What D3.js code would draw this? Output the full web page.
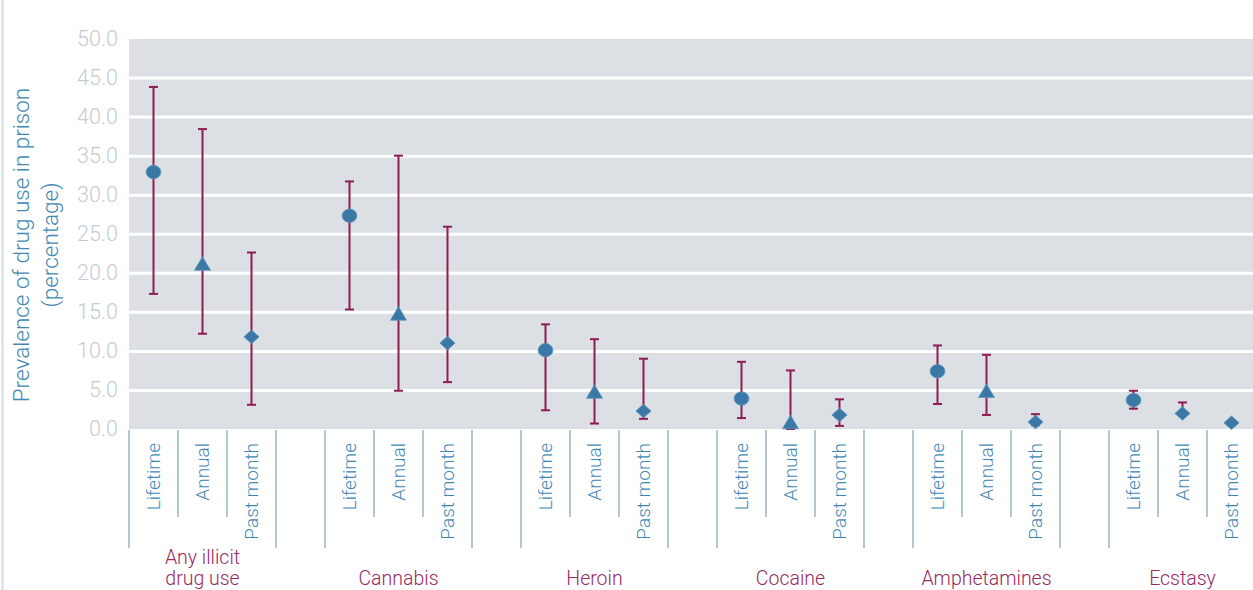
<!DOCTYPE html>
<html>
<head>
<meta charset="utf-8">
<script src="https://cdn.jsdelivr.net/npm/d3@7"></script>
<style>
  body { margin: 0; background: #fff; }
  svg { display: block; }
</style>
</head>
<body>
<div id="chart"></div>
<script>
// drug groups along the x axis
var groups = ["Any illicit drug use", "Cannabis", "Heroin", "Cocaine", "Amphetamines", "Ecstasy"]
var groupLabels = [["Any illicit", "drug use"], ["Cannabis"], ["Heroin"], ["Cocaine"], ["Amphetamines"], ["Ecstasy"]]
var measures = ["Lifetime", "Annual", "Past month"]
var yTicks = [0, 5, 10, 15, 20, 25, 30, 35, 40, 45, 50]

// prevalence (%) with lower / upper range, one value per group
var lifetime      = [32.9, 27.3, 10.1, 3.9, 7.4, 3.7]
var lifetimeLow   = [17.3, 15.3,  2.4, 1.4, 3.2, 2.6]
var lifetimeHigh  = [43.8, 31.7, 13.4, 8.6, 10.7, 4.9]
var annual        = [21.2, 14.8,  4.8, 0.9, 4.9, 2.0]
var annualLow     = [12.2,  4.9,  0.7, 0.0, 1.8, 1.7]
var annualHigh    = [38.4, 35.0, 11.5, 7.5, 9.5, 3.4]
var pastMonth     = [11.8, 11.0,  2.3, 1.8, 0.9, 0.8]
var pastMonthLow  = [ 3.1,  6.0,  1.3, 0.4, 0.5, 0.5]
var pastMonthHigh = [22.6, 25.9,  9.0, 3.8, 1.9, 0.9]
// marker used for each group's three points (ecstasy annual is drawn as a diamond in the original)
var markerShapes = [
	["circle", "triangle", "diamond"],
	["circle", "triangle", "diamond"],
	["circle", "triangle", "diamond"],
	["circle", "triangle", "diamond"],
	["circle", "triangle", "diamond"],
	["circle", "diamond",  "diamond"]
]

var W = 1253, H = 590
var plotLeft = 129, plotTop = 39, plotBottom = 429, plotRight = W
var slot = 49

var cGrid   = "#dce0e4",
	cBar    = "#8e1c54",
	cMarker = "#3b78a5",
	cEdge   = "#5a95c2",
	cTitle  = "#3f88b4",
	cTick   = "#c3ccd4",
	cSep    = "#b6c5d2",
	cGroup  = "#962a5f"

var fontFam = "Roboto, 'Liberation Sans', sans-serif"

var points = []
groups.forEach(function(g, i) {
	var vals = [[lifetime[i], lifetimeLow[i], lifetimeHigh[i]],
				[annual[i], annualLow[i], annualHigh[i]],
				[pastMonth[i], pastMonthLow[i], pastMonthHigh[i]]]
	measures.forEach(function(m, j) {
		points.push({group: g, measure: m, value: vals[j][0], low: vals[j][1], high: vals[j][2], shape: markerShapes[i][j]})
	})
})

var svg = d3.select("#chart").append("svg")
	.attr("width", W)
	.attr("height", H)
	.style("font-family", fontFam)

var y = d3.scaleLinear().domain([0, 50]).range([plotBottom, 38.5])
var x0 = d3.scaleBand().domain(groups).range([plotLeft, plotLeft + groups.length * slot * 4])
var x1 = d3.scaleBand().domain(measures).range([0, slot * 3])
function px(d) { return x0(d.group) + x1(d.measure) + x1.bandwidth() / 2 }

// faint frame line at the left edge
svg.append("line")
	.attr("x1", 2.5).attr("x2", 2.5)
	.attr("y1", 0).attr("y2", H)
	.attr("stroke", "#d3dbe3")
	.attr("stroke-width", 2)

svg.append("rect")
	.attr("x", plotLeft)
	.attr("y", plotTop)
	.attr("width", plotRight - plotLeft)
	.attr("height", plotBottom - plotTop)
	.attr("fill", cGrid)

// white gridlines
svg.append("g")
	.attr("transform", "translate(" + plotLeft + ",0)")
	.call(d3.axisLeft(y).tickValues(yTicks.filter(function(t) { return t > 0 && t < 50 }))
		.tickSize(-(plotRight - plotLeft)).tickFormat(""))
	.call(function(g) { g.select(".domain").remove() })
	.selectAll("line")
	.attr("stroke", "#fff")
	.attr("stroke-width", 3)

// y tick labels
svg.append("g")
	.attr("transform", "translate(" + plotLeft + ",0)")
	.call(d3.axisLeft(y).tickValues(yTicks).tickFormat(d3.format(".1f")).tickSize(0).tickPadding(11))
	.call(function(g) { g.select(".domain").remove() })
	.selectAll("text")
	.attr("fill", cTick)
	.attr("font-size", 21.5)
	.attr("font-weight", 300)
	.style("font-family", fontFam)

// y axis title
var title = svg.append("text")
	.attr("transform", "translate(35,245) rotate(-90)")
	.attr("text-anchor", "middle")
	.attr("fill", cTitle)
	.attr("font-size", 22.5)
	.attr("font-weight", 300)
title.append("tspan").attr("x", 0).attr("dy", "-0.25em").text("Prevalence of drug use in prison")
title.append("tspan").attr("x", 0).attr("dy", "1.25em").text("(percentage)")

// separators under the x axis
var seps = []
groups.forEach(function(g) {
	seps.push({x: x0(g), long: true})
	seps.push({x: x0(g) + slot, long: false})
	seps.push({x: x0(g) + slot * 2, long: false})
	seps.push({x: x0(g) + slot * 3, long: true})
})
svg.selectAll(".sep")
	.data(seps)
	.enter()
	.append("line")
	.attr("class", "sep")
	.attr("x1", function(d) { return d.x }).attr("x2", function(d) { return d.x })
	.attr("y1", 430)
	.attr("y2", function(d) { return d.long ? 548 : 517 })
	.attr("stroke", cSep)
	.attr("stroke-width", 2)

// rotated measure labels
svg.selectAll(".measureText")
	.data(points)
	.enter()
	.append("text")
	.attr("class", "measureText")
	.attr("transform", function(d) { return "translate(" + px(d) + ",443) rotate(-90)" })
	.attr("dy", "0.36em")
	.attr("text-anchor", "end")
	.attr("fill", cTitle)
	.attr("font-size", 19)
	.attr("font-weight", 300)
	.text(function(d) { return d.measure })

// group labels
svg.selectAll(".groupText")
	.data(groups)
	.enter()
	.append("text")
	.attr("class", "groupText")
	.attr("text-anchor", "middle")
	.attr("fill", cGroup)
	.attr("font-size", 19.5)
	.attr("font-weight", 300)
	.each(function(g, i) {
		var lines = groupLabels[i]
		var t = d3.select(this)
		lines.forEach(function(l, k) {
			t.append("tspan")
				.attr("x", x0(g) + slot * 1.5)
				.attr("y", 585 - (lines.length - 1 - k) * 21)
				.text(l)
		})
	})

// error bars
var bars = svg.selectAll(".errBar")
	.data(points)
	.enter()
	.append("g")
	.attr("class", "errBar")
	.attr("stroke", cBar)
	.attr("stroke-width", 2)
bars.append("line")
	.attr("x1", px).attr("x2", px)
	.attr("y1", function(d) { return y(d.low) })
	.attr("y2", function(d) { return y(d.high) })
bars.append("line")
	.attr("x1", function(d) { return px(d) - 4.5 }).attr("x2", function(d) { return px(d) + 4.5 })
	.attr("y1", function(d) { return y(d.high) }).attr("y2", function(d) { return y(d.high) })
bars.append("line")
	.attr("x1", function(d) { return px(d) - 4.5 }).attr("x2", function(d) { return px(d) + 4.5 })
	.attr("y1", function(d) { return y(d.low) }).attr("y2", function(d) { return y(d.low) })

// markers, centred on their bounding box like the original
function markerPath(shape) {
	if (shape == "circle") {
		return "M-7.4,0A7.4,6.7 0 1,0 7.4,0A7.4,6.7 0 1,0 -7.4,0Z"
	} else if (shape == "triangle") {
		return "M0,-6.8L8,6.8L-8,6.8Z"
	} else {
		return "M0,-6.8L7.6,0L0,6.8L-7.6,0Z"
	}
}
svg.selectAll(".marker")
	.data(points)
	.enter()
	.append("path")
	.attr("class", "marker")
	.attr("transform", function(d) { return "translate(" + px(d) + "," + y(d.value) + ")" })
	.attr("d", function(d) { return markerPath(d.shape) })
	.attr("fill", cMarker)
	.attr("stroke", cEdge)
	.attr("stroke-width", 0.8)
</script>
</body>
</html>
